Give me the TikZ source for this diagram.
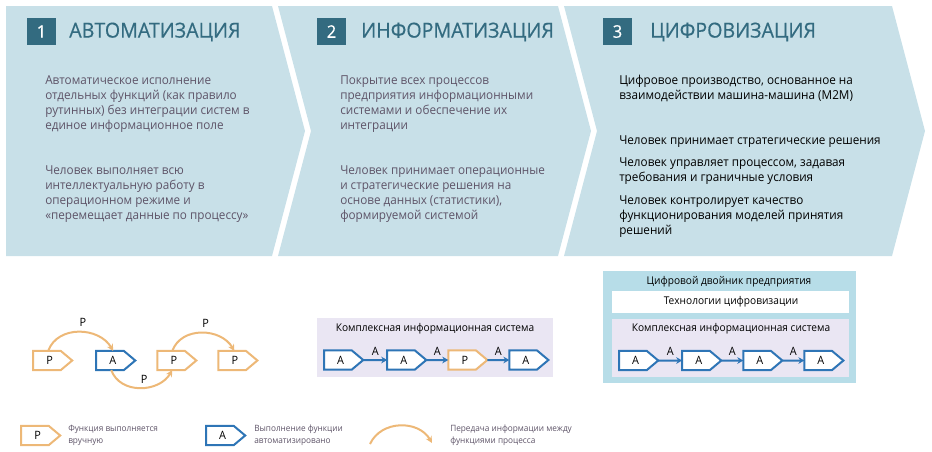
\documentclass[tikz,border=0pt]{standalone}
\usepackage{fontspec}
\setmainfont{Open Sans}[FakeStretch=0.95]
\usetikzlibrary{positioning,calc,arrows.meta,shapes.symbols}
\definecolor{panelblue}{HTML}{C8E0E8}
\definecolor{headteal}{HTML}{336B80}
\definecolor{bodygrey}{HTML}{5E5468}
\definecolor{manualorange}{HTML}{EDB877}
\definecolor{autoblue}{HTML}{2E75B6}
\definecolor{twinblue}{HTML}{B7DDE8}
\definecolor{lavender}{HTML}{EAE6F3}
\tikzset{
  panel/.style={fill=panelblue},
  numbox/.style={fill=headteal, text=white, minimum width=21.5pt, minimum height=20.5pt, inner sep=0pt, font=\fontsize{13}{14}\selectfont\addfontfeature{FakeBold=0.6}},
  headline/.style={anchor=west, inner sep=0pt, text=headteal, font=\fontsize{15.5}{18}\selectfont\addfontfeature{FakeBold=0.5}},
  bodytext/.style={anchor=north west, inner sep=0pt, align=left, text=bodygrey, font=\fontsize{9.25}{11.45}\selectfont},
  blacktext/.style={bodytext, text=black},
  func/.style={signal, signal to=east, signal pointer angle=80, draw, line width=1.5pt, fill=white, inner sep=0pt, outer sep=0pt,
    minimum width=29.3pt, minimum height=14.3pt, font=\fontsize{8.6}{10}\selectfont, execute at begin node=\hskip 4pt},
  manual/.style={func, draw=manualorange},
  auto/.style={func, draw=autoblue},
  handover/.style={draw=manualorange, line width=1.5pt, -{Stealth[length=5pt,width=5pt]}},
  sysflow/.style={draw=autoblue, line width=1.5pt, -{Stealth[length=4.5pt,width=5pt]}},
  flowlabel/.style={inner sep=0pt, font=\fontsize{8.6}{10}\selectfont},
  boxtitle/.style={inner sep=0pt, font=\fontsize{8}{10}\selectfont},
  legendtext/.style={anchor=west, inner sep=0pt, align=left, text=bodygrey, font=\fontsize{6.5}{9}\selectfont}
}
\begin{document}
\begin{tikzpicture}[x=0.75pt, y=-0.75pt]
  \useasboundingbox (0,0) rectangle (932,451);

  % chevrons
  \fill[panel] (6,6) -- (272,6) -- (305,131) -- (272,256) -- (6,256) -- cycle;
  \fill[panel] (278,6) -- (558,6) -- (591,131) -- (558,256) -- (278,256) -- (311,131) -- cycle;
  \fill[panel] (564,6) -- (892,6) -- (925,131) -- (892,256) -- (564,256) -- (597,131) -- cycle;

  % headers
  \node[numbox] (n1) at (41.5,31.5) {1};
  \node[headline] (h1) at (69,32) {АВТОМАТИЗАЦИЯ};
  \node[numbox] (n2) at (331.5,31.5) {2};
  \node[headline] (h2) at (361,32) {ИНФОРМАТИЗАЦИЯ};
  \node[numbox] (n3) at (617.5,31.5) {3};
  \node[headline] (h3) at (650,32) {ЦИФРОВИЗАЦИЯ};

  % texts
  \node[bodytext] (t1a) at (45,75) {Автоматическое исполнение\\отдельных функций (как правило\\рутинных) без интеграции систем в\\единое информационное поле};
  \node[bodytext] (t1b) at (45,165) {Человек выполняет всю\\интеллектуальную работу в\\операционном режиме и\\«перемещает данные по процессу»};
  \node[bodytext] (t2a) at (340,75) {Покрытие всех процессов\\предприятия информационными\\системами и обеспечение их\\интеграции};
  \node[bodytext] (t2b) at (340,165) {Человек принимает операционные\\и стратегические решения на\\основе данных (статистики),\\формируемой системой};
  \node[blacktext] (t3a) at (619,74.5) {Цифровое производство, основанное на\\взаимодействии машина-машина (M2M)};
  \node[blacktext] (t3b) at (619,135.5) {Человек принимает стратегические решения};
  \node[blacktext] (t3c) at (619,157.5) {Человек управляет процессом, задавая\\требования и граничные условия};
  \node[blacktext] (t3d) at (619,195) {Человек контролирует качество\\функционирования моделей принятия\\решений};

  % manual process
  \node[manual] (p1) at (47,360.5) {P};
  \node[auto, right=18pt of p1] (a1) {A};
  \node[manual, right=16.5pt of a1] (p2) {P};
  \node[manual, right=16.5pt of p2] (p3) {P};
  \draw[handover] ($(p1.north west)+(15,0)$) to[out=70,in=120,looseness=1.1] node[flowlabel, above=3.5pt, xshift=3pt] {P} ($(a1.north west)+(17,0)$);
  \draw[handover] ($(a1.south west)+(15,0)$) to[out=-70,in=-120,looseness=1.1] node[flowlabel, above=2.5pt, xshift=3pt] {P} ($(p2.south west)+(15,0)$);
  \draw[handover] ($(p2.north west)+(15,0)$) to[out=70,in=120,looseness=1.1] node[flowlabel, above=3.5pt, xshift=3pt] {P} ($(p3.north west)+(16,0)$);

  % information system
  \fill[lavender] (317,318) rectangle (553,377);
  \node[boxtitle] (is1) at (435,329) {Комплексная информационная система};
  \node[auto] (b1) at (338,360) {A};
  \node[auto, right=18pt of b1] (b2) {A};
  \node[manual, right=16.5pt of b2] (b3) {P};
  \node[auto, right=16.5pt of b3] (b4) {A};
  \draw[sysflow] (b1) -- node[flowlabel, above=3pt] {A} (b2);
  \draw[sysflow] (b2) -- node[flowlabel, above=3pt] {A} (b3);
  \draw[sysflow] (b3) -- node[flowlabel, above=3pt] {A} (b4);

  % digital twin
  \fill[twinblue] (603,271) rectangle (856,383);
  \node[boxtitle] (tw) at (729,281.5) {Цифровой двойник предприятия};
  \fill[white] (612,291) rectangle (849,313);
  \node[boxtitle] (tc) at (731,301.5) {Технологии цифровизации};
  \fill[lavender] (612,319) rectangle (849,377);
  \node[boxtitle] (is2) at (731,329) {Комплексная информационная система};
  \node[auto] (c1) at (633,360.5) {A};
  \node[auto, right=18pt of c1] (c2) {A};
  \node[auto, right=16.5pt of c2] (c3) {A};
  \node[auto, right=16.5pt of c3] (c4) {A};
  \draw[sysflow] (c1) -- node[flowlabel, above=3pt] {A} (c2);
  \draw[sysflow] (c2) -- node[flowlabel, above=3pt] {A} (c3);
  \draw[sysflow] (c3) -- node[flowlabel, above=3pt] {A} (c4);

  % legend
  \node[manual] (lp) at (35,435.5) {P};
  \node[legendtext] (lpt) at (68,435.5) {Функция выполняется\\вручную};
  \node[auto] (la) at (220,435.5) {A};
  \node[legendtext] (lat) at (254,435.5) {Выполнение функции\\автоматизировано};
  \coordinate (ls) at (370,444);
  \coordinate (le) at (432,443);
  \draw[handover] (ls) to[out=65,in=120,looseness=1.1] (le);
  \node[legendtext] (lht) at (450,435.5) {Передача информации между\\функциями процесса};
\end{tikzpicture}
\end{document}
